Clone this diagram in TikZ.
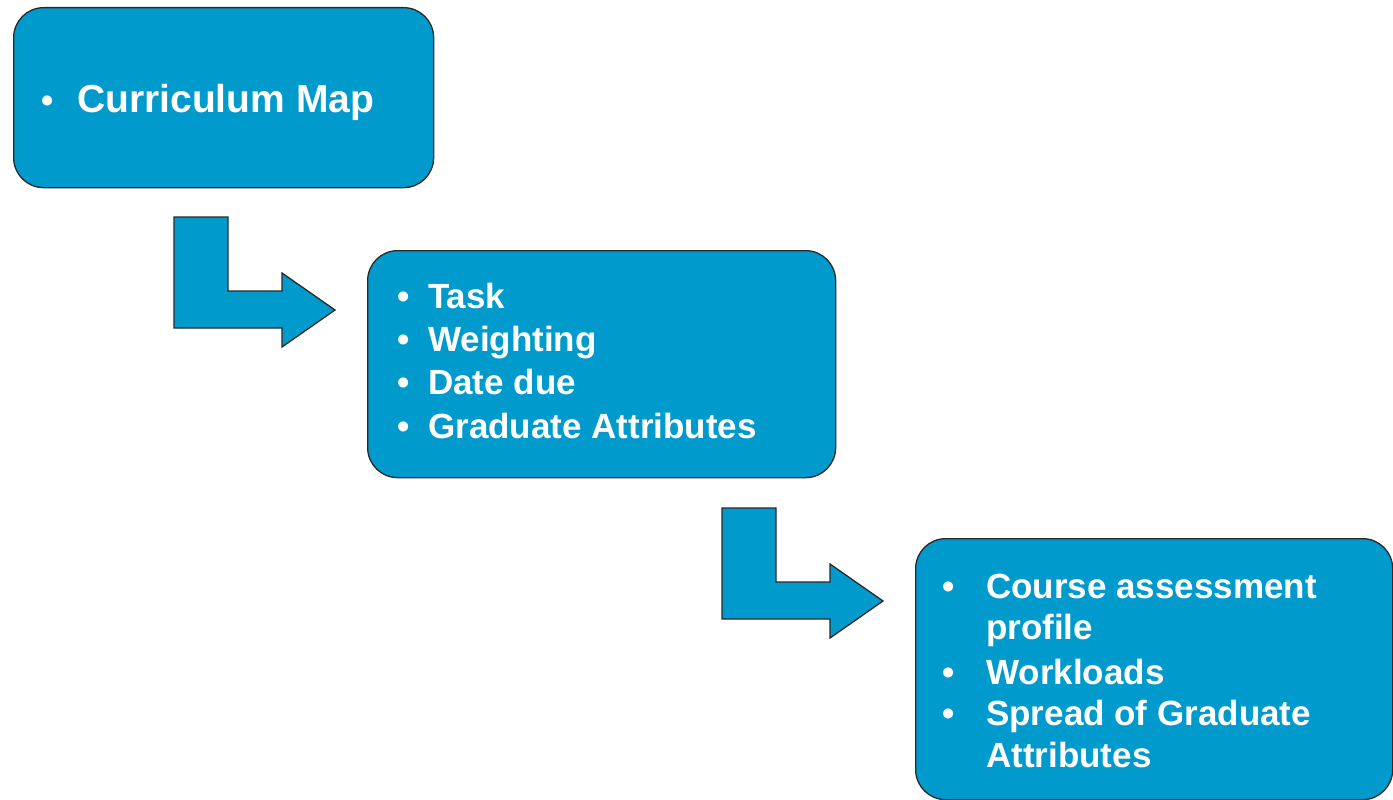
\documentclass[tikz,border=0pt]{standalone}
\usepackage{fontspec}
\setmainfont{Liberation Sans}
\definecolor{boxblue}{RGB}{0,155,204}
\definecolor{edgegray}{RGB}{40,40,40}
\begin{document}
\begin{tikzpicture}[x=1pt,y=-1pt,
  box/.style={draw=edgegray, line width=1.3pt, fill=boxblue, rounded corners=30pt,
    inner sep=0pt, anchor=north west},
  bendarrow/.style={draw=edgegray, line width=1.3pt, fill=boxblue, line join=miter},
  txt/.style={text=white, font=\fontsize{35}{42}\selectfont\bfseries, anchor=base west, inner sep=0pt},
  dot/.style={text=white, font=\fontsize{35}{42}\selectfont\bfseries, anchor=base, inner sep=0pt},
  bigtxt/.style={txt, font=\fontsize{39}{46}\selectfont\bfseries}]
\useasboundingbox (0,0) rectangle (1393,800);

% boxes
\node[box, minimum width=420pt, minimum height=180pt] (b1) at (13,7) {};
\node[box, minimum width=468pt, minimum height=227pt] (b2) at (367,250) {};
\node[box, minimum width=477pt, minimum height=261pt] (b3) at (915,538) {};

% bent block arrows between the boxes
\foreach \dx/\dy in {0/0, 548/291} {
  \begin{scope}[shift={(\dx,\dy)}]
    \draw[bendarrow] (174,217) -- (228,217) -- (228,291) -- (282,291) -- (282,273)
      -- (335,310) -- (282,347) -- (282,328) -- (174,328) -- cycle;
  \end{scope}
}

% first box
\node[dot] (d1) at (48,113) {•};
\node[bigtxt] (t1) at (77,113) {Curriculum Map};

% second box
\node[dot] (d2a) at (404,308) {•};
\node[txt] (t2a) at (428,308) {Task};
\node[dot] (d2b) at (404,351) {•};
\node[txt] (t2b) at (428,351) {Weighting};
\node[dot] (d2c) at (404,394) {•};
\node[txt] (t2c) at (428,394) {Date due};
\node[dot] (d2d) at (404,438) {•};
\node[txt] (t2d) at (428,438) {Graduate Attributes};

% third box
\node[dot] (d3a) at (949,598) {•};
\node[txt] (t3a) at (986,598) {Course assessment};
\node[txt] (t3b) at (986,639) {profile};
\node[dot] (d3c) at (949,684) {•};
\node[txt] (t3c) at (986,684) {Workloads};
\node[dot] (d3d) at (949,725) {•};
\node[txt] (t3d) at (986,725) {Spread of Graduate};
\node[txt] (t3e) at (986,767) {Attributes};
\end{tikzpicture}
\end{document}
